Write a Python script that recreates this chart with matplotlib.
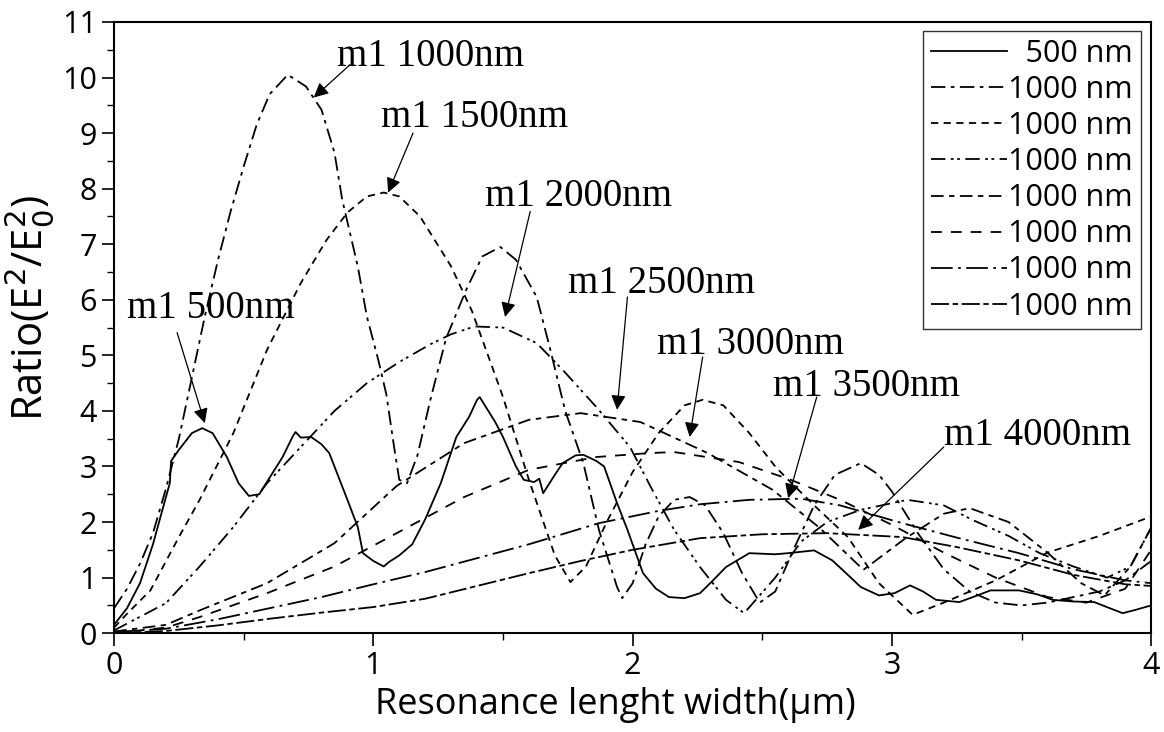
import matplotlib
matplotlib.use("Agg")
import matplotlib.pyplot as plt

# (x in um, ratio)
x500 = [0, 0.05, 0.1, 0.15, 0.2, 0.215, 0.22, 0.25, 0.3, 0.34, 0.38, 0.435, 0.48, 0.52, 0.56,
        0.6, 0.65, 0.69, 0.7, 0.72, 0.76, 0.8, 0.83, 0.87, 0.9, 0.94, 0.96, 1.0, 1.04, 1.06,
        1.1, 1.15, 1.2, 1.26, 1.32, 1.37, 1.4, 1.41, 1.43, 1.47, 1.5, 1.55, 1.58, 1.62, 1.64,
        1.655, 1.7, 1.73, 1.78, 1.81, 1.86, 1.89, 1.94, 1.98, 2.04, 2.09, 2.14, 2.2, 2.26,
        2.31, 2.36, 2.45, 2.55, 2.6, 2.66, 2.7, 2.77, 2.83, 2.88, 2.95, 3.01, 3.07, 3.12,
        3.17, 3.26, 3.33, 3.38, 3.49, 3.56, 3.62, 3.7, 3.78, 3.84, 3.89, 3.94, 4.0]
y500 = [0.15, 0.45, 0.9, 1.6, 2.45, 2.7, 3.1, 3.3, 3.6, 3.69, 3.6, 3.17, 2.7, 2.47, 2.5,
        2.8, 3.17, 3.55, 3.62, 3.52, 3.53, 3.4, 3.24, 2.76, 2.4, 1.91, 1.44, 1.3, 1.2, 1.28,
        1.4, 1.6, 2.05, 2.7, 3.53, 3.9, 4.2, 4.25, 4.1, 3.8, 3.53, 3.0, 2.76, 2.72, 2.78,
        2.52, 2.85, 3.06, 3.2, 3.21, 3.1, 3.0, 2.34, 1.86, 1.08, 0.8, 0.65, 0.63, 0.72,
        0.95, 1.19, 1.44, 1.42, 1.44, 1.47, 1.49, 1.31, 1.05, 0.83, 0.68, 0.72, 0.86, 0.75,
        0.6, 0.56, 0.68, 0.77, 0.77, 0.7, 0.6, 0.57, 0.56, 0.45, 0.36, 0.42, 0.5]

x1000 = [0, 0.05, 0.1, 0.15, 0.2, 0.25, 0.3, 0.35, 0.4, 0.45, 0.5, 0.55, 0.6, 0.67, 0.74,
         0.8, 0.85, 0.88, 0.94, 0.975, 1.02, 1.05, 1.08, 1.1, 1.13, 1.17, 1.22, 1.28, 1.36,
         1.42, 1.49, 1.55, 1.63, 1.68, 1.74, 1.81, 1.87, 1.94, 1.96, 2.0, 2.05, 2.1, 2.16,
         2.22, 2.28, 2.35, 2.42, 2.49, 2.55, 2.62, 2.7, 2.78, 2.88, 2.95, 3.0, 3.1, 3.2, 3.3,
         3.4, 3.5, 3.6, 3.7, 3.8, 3.9, 4.0]
y1000 = [0.45, 0.8, 1.25, 1.8, 2.6, 3.5, 4.6, 5.7, 6.7, 7.6, 8.4, 9.15, 9.7, 10.05, 9.84,
         9.42, 8.65, 7.8, 6.6, 5.7, 4.9, 4.3, 3.35, 2.76, 2.7, 3.2, 4.2, 5.3, 6.2,
         6.78, 6.95, 6.72, 6.05, 5.15, 4.0, 3.06, 1.86, 0.83, 0.63, 0.9, 1.6, 2.1, 2.4,
         2.45, 2.3, 1.8, 1.1, 0.55, 0.75, 1.5, 2.3, 2.85, 3.06, 2.85, 2.55, 1.8, 1.15, 0.75,
         0.55, 0.5, 0.55, 0.65, 0.75, 0.95, 1.3]

x1500 = [0, 0.05, 0.14, 0.25, 0.33, 0.46, 0.59, 0.72, 0.82, 0.9, 0.975, 1.04, 1.1, 1.18,
         1.3, 1.38, 1.45, 1.5, 1.6, 1.7, 1.76, 1.82, 1.9, 2.0, 2.1, 2.2, 2.27, 2.35, 2.45,
         2.55, 2.6, 2.7, 2.83, 2.95, 3.08, 3.2, 3.4, 3.6, 3.8, 4.0]
y1500 = [0.1, 0.35, 0.77, 1.73, 2.4, 3.6, 5.1, 6.3, 7.08, 7.57, 7.86, 7.93, 7.86, 7.5,
         6.6, 5.8, 4.9, 4.25, 2.76, 1.4, 0.92, 1.2, 2.0, 2.9, 3.6, 4.1, 4.2, 4.1, 3.6,
         3.0, 2.76, 2.3, 1.73, 0.9, 0.33, 0.55, 0.95, 1.45, 1.75, 2.1]

x2000 = [0, 0.2, 0.33, 0.46, 0.59, 0.72, 0.85, 0.975, 1.1, 1.22, 1.3, 1.39, 1.5, 1.63,
         1.73, 1.86, 1.99, 2.07, 2.16, 2.26, 2.36, 2.43, 2.55, 2.65, 2.75, 2.88, 3.06, 3.2,
         3.31, 3.45, 3.57, 3.7, 3.83, 3.92, 4.0]
y2000 = [0.05, 0.54, 1.2, 1.91, 2.7, 3.35, 4.0, 4.5, 4.88, 5.2, 5.38, 5.52, 5.5, 5.22,
         4.74, 4.07, 3.35, 2.63, 1.86, 1.19, 0.6, 0.36, 1.0, 1.65, 2.0, 2.22, 2.4, 2.3,
         2.04, 1.75, 1.44, 1.2, 1.0, 1.2, 1.9]

x2500 = [0, 0.2, 0.33, 0.59, 0.85, 1.09, 1.35, 1.6, 1.8, 2.03, 2.29, 2.54, 2.72, 2.89,
         3.05, 3.2, 3.3, 3.45, 3.6, 3.73, 3.82, 3.92, 4.0]
y2500 = [0.03, 0.15, 0.41, 0.9, 1.62, 2.65, 3.42, 3.84, 3.96, 3.8, 3.24, 2.58, 1.9, 1.14,
         1.7, 2.15, 2.25, 2.0, 1.45, 0.9, 0.68, 1.2, 1.9]

x3000 = [0, 0.2, 0.33, 0.59, 0.85, 1.09, 1.35, 1.6, 1.86, 2.06, 2.16, 2.41, 2.61, 2.8,
         3.0, 3.2, 3.4, 3.6, 3.75, 3.9, 4.0]
y3000 = [0, 0.1, 0.29, 0.72, 1.2, 1.8, 2.45, 2.94, 3.17, 3.24, 3.26, 3.08, 2.76, 2.4,
         1.95, 1.45, 1.0, 0.65, 0.55, 0.8, 1.5]

x3500 = [0, 0.2, 0.4, 0.6, 0.8, 1.0, 1.2, 1.4, 1.6, 1.87, 2.1, 2.26, 2.45, 2.65, 2.8,
         3.04, 3.25, 3.49, 3.7, 3.9, 4.0]
y3500 = [0.02, 0.08, 0.25, 0.45, 0.65, 0.88, 1.1, 1.35, 1.6, 1.98, 2.2, 2.32, 2.4, 2.42,
         2.3, 1.98, 1.72, 1.44, 1.15, 0.95, 0.9]

x4000 = [0, 0.2, 0.4, 0.6, 0.8, 1.0, 1.2, 1.4, 1.6, 1.8, 2.0, 2.26, 2.5, 2.75, 3.04,
         3.25, 3.49, 3.7, 3.9, 4.0]
y4000 = [0, 0.04, 0.14, 0.26, 0.37, 0.47, 0.62, 0.85, 1.08, 1.3, 1.5, 1.71, 1.78, 1.8,
         1.73, 1.55, 1.31, 1.05, 0.88, 0.85]

labels = ["\u2007500 nm"] + ["1000 nm"] * 7

styles = ["-", (0, (8, 3, 2, 3)), (0, (4, 3)), (0, (8, 3, 1.5, 2, 1.5, 3)),
          (0, (7, 3, 3, 3)), (0, (6, 5)), (0, (12, 3, 1.5, 3)), (0, (10, 2, 3, 2))]

# annotation texts, arrow start and tip in data units
notes = [
    ("m1 500nm", (0.05, 5.85), (0.243, 5.41), (0.35, 3.78)),
    ("m1 1000nm", (0.86, 10.38), (0.91, 10.23), (0.77, 9.64)),
    ("m1 1500nm", (1.03, 9.28), (1.153, 9.0), (1.057, 7.93)),
    ("m1 2000nm", (1.43, 7.85), (1.605, 7.59), (1.508, 5.69)),
    ("m1 2500nm", (1.75, 6.3), (1.98, 6.05), (1.94, 4.02)),
    ("m1 3000nm", (2.095, 5.2), (2.27, 4.97), (2.22, 3.53)),
    ("m1 3500nm", (2.54, 4.44), (2.71, 4.25), (2.60, 2.43)),
    ("m1 4000nm", (3.2, 3.55), (3.2, 3.35), (2.87, 1.86)),
]

plt.rcParams["font.family"] = ["Open Sans", "DejaVu Sans"]

fig = plt.figure(figsize=(11.64, 7.32), dpi=100)
ax = fig.add_axes([0.098, 0.135, 0.891, 0.835])

xs = [x500, x1000, x1500, x2000, x2500, x3000, x3500, x4000]
ys = [y500, y1000, y1500, y2000, y2500, y3000, y3500, y4000]
for xx, yy, ls, lab in zip(xs, ys, styles, labels):
    ax.plot(xx, yy, color="black", lw=1.3, linestyle=ls, label=lab)

for txt, tpos, start, tip in notes:
    ax.text(tpos[0], tpos[1], txt, family="Liberation Serif", fontsize=28, va="center")
    ax.annotate("", xy=tip, xytext=start,
                arrowprops=dict(arrowstyle="-|>", color="black", lw=0.9,
                                mutation_scale=22, shrinkA=0, shrinkB=0))

ax.set_xlim(0, 4)
ax.set_ylim(0, 11)
ax.set_xticks([0, 1, 2, 3, 4])
ax.set_xticks([0.5, 1.5, 2.5, 3.5], minor=True)
ax.set_yticks(range(0, 12))
ax.set_yticks([i + 0.5 for i in range(11)], minor=True)
ax.tick_params(which="major", direction="out", length=9, width=1.2, labelsize=22)
ax.tick_params(which="minor", direction="out", length=5, width=1.0)
for sp in ax.spines.values():
    sp.set_linewidth(1.5)

ax.set_xlabel("Resonance lenght width(\u03bcm)", fontsize=26)
ax.xaxis.set_label_coords(0.483, -0.088)
ax.set_ylabel("Ratio(E$^2$/E$_0^2$)", fontsize=30)
ax.yaxis.set_label_coords(-0.056, 0.532)

leg = ax.legend(loc="upper right", bbox_to_anchor=(0.99, 0.985), borderaxespad=0,
                fontsize=22, handlelength=2.5, handletextpad=0.05, labelspacing=0.2,
                borderpad=0.25, fancybox=False, frameon=True)
leg.get_frame().set_edgecolor("black")
leg.get_frame().set_linewidth(1.0)

fig.savefig("out.png", dpi=100)
